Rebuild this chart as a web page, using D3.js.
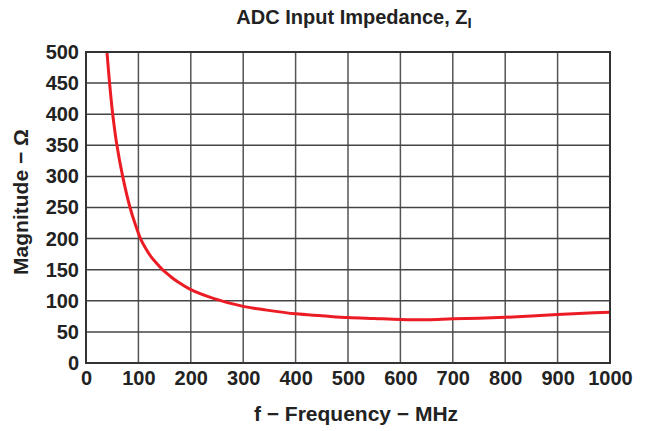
<!DOCTYPE html>
<html><head><meta charset="utf-8">
<script src="https://cdn.jsdelivr.net/npm/d3@7"></script>
<style>body{margin:0;background:#fff;} text{font-family:"Liberation Sans",Arial,sans-serif;font-weight:bold;fill:#222;}</style>
</head><body>
<svg id="c" width="648" height="431"></svg>
<script>
const freq = [40,45,51,59,70,84,94,104,114,124,135,146,160,175,200,243,300,345,400,450,500,550,600,650,700,750,800,850,900,950,1000];
const magnitude = [500,450,400,350,300,250,223,200,184,171,160,150,140,130.5,118,104,91,85,79,76,73,71.5,70,69.5,71,72,73.5,75.5,78,80,81.5];
const xTicks = [0,100,200,300,400,500,600,700,800,900,1000];
const yTicks = [0,50,100,150,200,250,300,350,400,450,500];
const title = "ADC Input Impedance, Z";
const titleSub = "I";
const xLabel = "f \u2212 Frequency \u2212 MHz";
const yLabel = "Magnitude \u2212 \u03A9";

const svg = d3.select("#c");
const L=86, R=610, T=52, B=363;
const x = d3.scaleLinear().domain([0,1000]).range([L,R]);
const y = d3.scaleLinear().domain([0,500]).range([B,T]);

const g = svg.append("g");
g.selectAll(".vg").data(xTicks.slice(1,-1)).enter().append("line")
 .attr("x1",d=>x(d)).attr("x2",d=>x(d)).attr("y1",T).attr("y2",B)
 .attr("stroke","#555").attr("stroke-width",1.5);
g.selectAll(".hg").data(yTicks.slice(1,-1)).enter().append("line")
 .attr("y1",d=>y(d)).attr("y2",d=>y(d)).attr("x1",L).attr("x2",R)
 .attr("stroke","#444").attr("stroke-width",1.5);

const line = d3.line().x((d,i)=>x(freq[i])).y(d=>y(d)).curve(d3.curveCatmullRom.alpha(0.5));
g.append("path").datum(magnitude).attr("d",line).attr("fill","none")
 .attr("stroke","#ec1c24").attr("stroke-width",3);

g.append("rect").attr("x",L).attr("y",T).attr("width",R-L).attr("height",B-T)
 .attr("fill","none").attr("stroke","#333").attr("stroke-width",2);

const xAxis = svg.append("g").attr("transform",`translate(0,${B})`)
 .call(d3.axisBottom(x).tickValues(xTicks).tickFormat(d3.format("d")).tickSize(0).tickPadding(8));
const yAxis = svg.append("g").attr("transform",`translate(${L},0)`)
 .call(d3.axisLeft(y).tickValues(yTicks).tickFormat(d3.format("d")).tickSize(0).tickPadding(7));
[xAxis,yAxis].forEach(a=>{a.select(".domain").remove();
 a.selectAll("text").style("font-size","20px").style("font-family","Liberation Sans, Arial, sans-serif").style("font-weight","bold").attr("fill","#222");});

const t = svg.append("text").attr("x",354).attr("y",24).attr("text-anchor","middle").style("font-size","20px");
t.append("tspan").text(title);
t.append("tspan").attr("dy",4).style("font-size","15px").text(titleSub);

svg.append("text").attr("x",356).attr("y",421).attr("text-anchor","middle").style("font-size","21px").text(xLabel);
svg.append("text").attr("transform","translate(28,202) rotate(-90)").attr("text-anchor","middle").style("font-size","21px").text(yLabel);
</script>
</body></html>
